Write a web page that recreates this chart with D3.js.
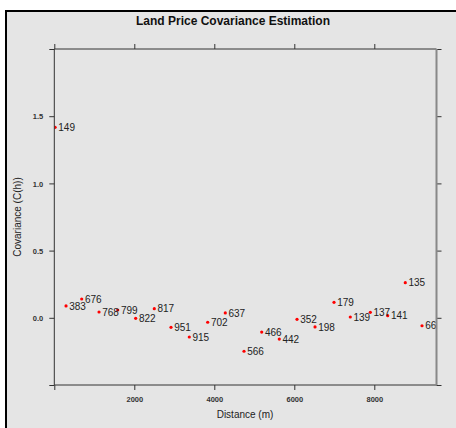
<!DOCTYPE html>
<html>
<head>
<meta charset="utf-8">
<script src="https://cdn.jsdelivr.net/npm/d3@7"></script>
<style>
  html, body { margin: 0; padding: 0; background: #ffffff; }
  svg { display: block; font-family: "Liberation Sans", Arial, sans-serif; }
</style>
</head>
<body>
<svg id="chart" width="456" height="428"></svg>
<script>
// Empirical covariance by distance lag, labelled with the number of pairs
const distances = [20, 293, 685, 1118, 1585, 2035, 2500, 2918, 3375, 3835, 4275,
                   4743, 5185, 5625, 6068, 6518, 6993, 7400, 7900, 8335, 8775, 9193];
const covariances = [1.417, 0.088, 0.140, 0.043, 0.058, -0.004, 0.068, -0.071, -0.143, -0.033, 0.036,
                     -0.249, -0.106, -0.158, -0.011, -0.068, 0.115, 0.006, 0.041, 0.016, 0.261, -0.059];
const pairCounts = [149, 383, 676, 768, 799, 822, 817, 951, 915, 702, 637,
                    566, 466, 442, 352, 198, 179, 139, 137, 141, 135, 66];

const xTicks = [0, 2000, 4000, 6000, 8000];
const xTickLabels = ["", "2000", "4000", "6000", "8000"];
const yTicks = [-0.5, 0.0, 0.5, 1.0, 1.5, 2.0];
const yTickLabels = ["", "0.0", "0.5", "1.0", "1.5", ""];

const svg = d3.select("#chart");
const W = 456, H = 428;
const panel = { left: 54.3, right: 436.5, top: 49, bottom: 385 };

// page background and frame
svg.append("rect").attr("x", 5).attr("y", 10).attr("width", W - 5).attr("height", H - 10)
  .attr("fill", "#e5e5e5");
svg.append("path").attr("d", `M6,${H} V11 H${W}`)
  .attr("fill", "none").attr("stroke", "#000").attr("stroke-width", 2);

const x = d3.scaleLinear().domain([0, 9555]).range([panel.left, panel.right]);
const y = d3.scaleLinear().domain([-0.5, 2.0]).range([panel.bottom, panel.top]);

// title
svg.append("text").attr("x", 233).attr("y", 25).attr("text-anchor", "middle")
  .attr("font-size", 12).attr("font-weight", "bold").attr("fill", "#111")
  .text("Land Price Covariance Estimation");

// points and pair-count labels, clipped to the panel
svg.append("clipPath").attr("id", "panelClip").append("rect")
  .attr("x", panel.left).attr("y", panel.top)
  .attr("width", panel.right - panel.left).attr("height", panel.bottom - panel.top);

const data = distances.map((d, i) => ({ d, c: covariances[i], n: pairCounts[i] }));
const pts = svg.append("g").attr("clip-path", "url(#panelClip)");
pts.selectAll("circle").data(data).enter().append("circle")
  .attr("cx", p => x(p.d)).attr("cy", p => y(p.c)).attr("r", 1.6).attr("fill", "#ff0000");
pts.selectAll("text").data(data).enter().append("text")
  .attr("x", p => x(p.d) + 3.2).attr("y", p => y(p.c)).attr("dy", "0.36em")
  .attr("font-size", 10).attr("fill", "#222").text(p => p.n);

// axes on all four sides
const tickLen = 5;
const axisColor = "#333";
const bottomAxis = d3.axisBottom(x).tickValues(xTicks).tickSize(tickLen).tickSizeOuter(0)
  .tickFormat((d, i) => xTickLabels[i]);
const topAxis = d3.axisTop(x).tickValues(xTicks).tickSize(tickLen).tickSizeOuter(0).tickFormat("");
const leftAxis = d3.axisLeft(y).tickValues(yTicks).tickSize(tickLen).tickSizeOuter(0)
  .tickFormat((d, i) => yTickLabels[i]);
const rightAxis = d3.axisRight(y).tickValues(yTicks).tickSize(tickLen).tickSizeOuter(0).tickFormat("");

function style(g) {
  g.selectAll(".domain").remove();
  g.selectAll("line").attr("stroke", axisColor).attr("stroke-width", 1);
  g.selectAll("text").attr("fill", "#333").attr("font-size", 7.5)
    .attr("font-family", "'Liberation Sans', Arial, sans-serif").attr("font-weight", "bold");
}
svg.append("g").attr("transform", `translate(0,${panel.bottom})`).call(bottomAxis).call(style)
  .selectAll("text").attr("dy", null).attr("y", 17);
svg.append("g").attr("transform", `translate(0,${panel.top})`).call(topAxis).call(style);
svg.append("g").attr("transform", `translate(${panel.left},0)`).call(leftAxis).call(style)
  .selectAll("text").attr("x", -11).attr("dy", "0.35em");
svg.append("g").attr("transform", `translate(${panel.right},0)`).call(rightAxis).call(style);

// panel box
svg.append("path")
  .attr("d", `M${panel.left},${panel.bottom} V${panel.top} H${panel.right} M${panel.left},${panel.bottom} H${panel.right}`)
  .attr("fill", "none").attr("stroke", axisColor).attr("stroke-width", 1);
svg.append("line").attr("x1", panel.right).attr("x2", panel.right)
  .attr("y1", panel.top).attr("y2", panel.bottom)
  .attr("stroke", "#888").attr("stroke-width", 2);

// axis titles
svg.append("text").attr("x", 245).attr("y", 418).attr("text-anchor", "middle")
  .attr("font-size", 10).attr("fill", "#222").text("Distance (m)");
svg.append("text").attr("transform", `translate(20.5,${(panel.top + panel.bottom) / 2}) rotate(-90)`)
  .attr("text-anchor", "middle").attr("font-size", 10).attr("fill", "#222")
  .text("Covariance (C(h))");
</script>
</body>
</html>
